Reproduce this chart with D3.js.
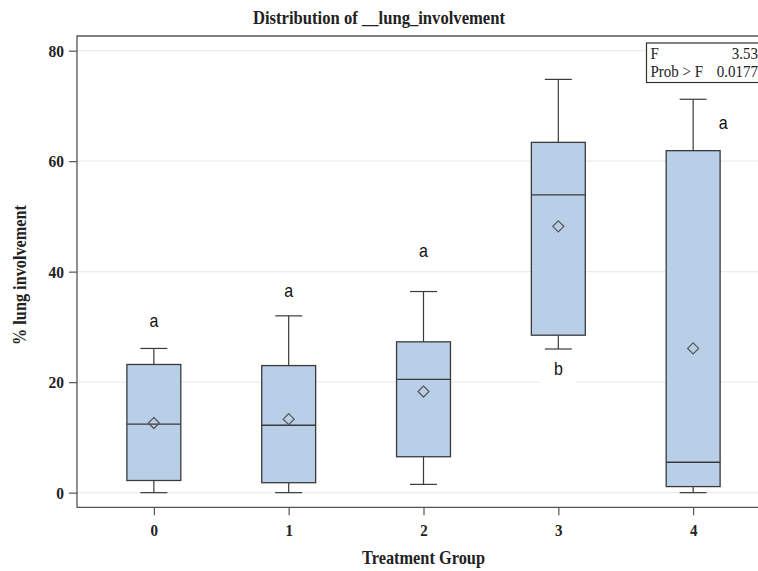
<!DOCTYPE html>
<html>
<head>
<meta charset="utf-8">
<script src="https://cdn.jsdelivr.net/npm/d3@7"></script>
<style>
  html, body { margin: 0; padding: 0; background: #fff; }
  svg { display: block; }
</style>
</head>
<body>
<svg id="chart" width="758" height="571"></svg>
<script>
// ---- data ----
const groups = ["0", "1", "2", "3", "4"];
const whiskerLow  = [0.0, 0.0, 1.5, 26.0, 0.0];
const q1          = [2.2, 1.8, 6.5, 28.5, 1.1];
const median      = [12.4, 12.2, 20.5, 53.9, 5.5];
const q3          = [23.2, 23.0, 27.3, 63.4, 61.9];
const whiskerHigh = [26.1, 32.0, 36.4, 74.8, 71.2];
const means       = [12.6, 13.3, 18.3, 48.2, 26.1];
const letters     = ["a", "a", "a", "b", "a"];
const letterValue = [31.0, 36.4, 43.6, 22.2, 66.9];
const yTicks = [0, 20, 40, 60, 80];
const statLabels = ["F", "Prob > F"];
const statValues = ["3.53", "0.0177"];
const titleText = "Distribution of __lung_involvement";
const xTitle = "Treatment Group";
const yTitle = "% lung involvement";

// ---- layout ----
const svg = d3.select("#chart");
const pLeft = 77, pTop = 36, pBottom = 507.3, pRight = 770;
const x = d3.scaleLinear().domain([-0.57, 4.57]).range([pLeft, pRight]);
const y = d3.scaleLinear().domain([-2.65, 82.65]).range([pBottom, pTop]);
const boxW = 0.4, capW = 0.2;
const ink = "#3a3a3a";
const serif = "'Liberation Serif', 'Times New Roman', serif";
const sans = "'Liberation Sans', Arial, sans-serif";

function stext(g, tx, ty, str, opts) {
  const t = g.append("text")
    .attr("transform", `translate(${tx},${ty}) rotate(${opts.rotate || 0}) scale(1,${opts.sy || 1})`)
    .attr("text-anchor", opts.anchor || "middle")
    .attr("font-family", opts.family || serif)
    .attr("font-size", opts.size)
    .attr("font-weight", opts.weight || "normal")
    .attr("fill", opts.fill || "#222")
    .text(str);
  if (opts.len) t.attr("textLength", opts.len).attr("lengthAdjust", "spacingAndGlyphs");
  return t;
}

// gridlines
svg.append("g").selectAll("line").data(yTicks).join("line")
  .attr("x1", pLeft).attr("x2", pRight)
  .attr("y1", d => y(d)).attr("y2", d => y(d))
  .attr("stroke", "#ececec").attr("stroke-width", 1.2);

// axes
const yAxis = d3.axisLeft(y).tickValues(yTicks).tickSize(8).tickFormat(d3.format("d"));
const gy = svg.append("g").attr("transform", `translate(${pLeft},0)`).call(yAxis);
gy.select(".domain").remove();
gy.selectAll(".tick line").attr("stroke", "#555").attr("stroke-width", 1.2);
gy.selectAll(".tick text").remove();
gy.selectAll(".tick").each(function(d) {
  stext(d3.select(this), -13, 5.5, String(d), {anchor: "end", size: 15.5, weight: "bold", sy: 1.05});
});

const xAxis = d3.axisBottom(x).tickValues(d3.range(groups.length)).tickSize(8).tickFormat(i => groups[i]);
const gx = svg.append("g").attr("transform", `translate(0,${pBottom})`).call(xAxis);
gx.select(".domain").remove();
gx.selectAll(".tick line").attr("stroke", "#555").attr("stroke-width", 1.2);
gx.selectAll(".tick text").remove();
gx.selectAll(".tick").each(function(i) {
  stext(d3.select(this), 0, 29, groups[i], {size: 15, weight: "bold", sy: 1.05});
});

// frame
svg.append("path")
  .attr("d", `M${pRight},${pTop}H${pLeft}V${pBottom}H${pRight}`)
  .attr("fill", "none").attr("stroke", "#555").attr("stroke-width", 1.3);

// boxes
const idx = d3.range(groups.length);
const g = svg.append("g");
g.append("g").selectAll("line").data(idx).join("line")
  .attr("x1", i => x(i)).attr("x2", i => x(i))
  .attr("y1", i => y(whiskerLow[i])).attr("y2", i => y(q1[i]))
  .attr("stroke", ink).attr("stroke-width", 1.2);
g.append("g").selectAll("line").data(idx).join("line")
  .attr("x1", i => x(i)).attr("x2", i => x(i))
  .attr("y1", i => y(whiskerHigh[i])).attr("y2", i => y(q3[i]))
  .attr("stroke", ink).attr("stroke-width", 1.2);
[whiskerLow, whiskerHigh].forEach(arr => {
  g.append("g").selectAll("line").data(idx).join("line")
    .attr("x1", i => x(i - capW / 2)).attr("x2", i => x(i + capW / 2))
    .attr("y1", i => y(arr[i])).attr("y2", i => y(arr[i]))
    .attr("stroke", ink).attr("stroke-width", 1.2);
});
g.append("g").selectAll("rect").data(idx).join("rect")
  .attr("x", i => x(i - boxW / 2))
  .attr("width", i => x(i + boxW / 2) - x(i - boxW / 2))
  .attr("y", i => y(q3[i]))
  .attr("height", i => y(q1[i]) - y(q3[i]))
  .attr("fill", "#b9cfe7").attr("stroke", ink).attr("stroke-width", 1.3);
g.append("g").selectAll("line").data(idx).join("line")
  .attr("x1", i => x(i - boxW / 2)).attr("x2", i => x(i + boxW / 2))
  .attr("y1", i => y(median[i])).attr("y2", i => y(median[i]))
  .attr("stroke", ink).attr("stroke-width", 1.3);
g.append("g").selectAll("path").data(idx).join("path")
  .attr("d", i => {
    const cx = x(i), cy = y(means[i]), r = 5.5;
    return `M${cx},${cy - r}L${cx + r},${cy}L${cx},${cy + r}L${cx - r},${cy}Z`;
  })
  .attr("fill", "none").attr("stroke", "#555").attr("stroke-width", 1.2);

// letters
const lg = svg.append("g");
idx.forEach(i => {
  const dx = (letterValue[i] < whiskerHigh[i] && letterValue[i] > q3[i]) ? 30 : 0;
  const cx = x(i) + dx, cy = y(letterValue[i]);
  if (letterValue[i] < whiskerLow[i]) {
    lg.append("rect").attr("x", cx - 18).attr("y", cy - 14).attr("width", 36).attr("height", 28).attr("fill", "#fff");
  }
  stext(lg, cx, cy + 5.5, letters[i], {family: sans, size: 16, sy: 1.2, fill: "#111"});
});

// stats box
const sb = svg.append("g");
sb.append("rect").attr("x", 646.5).attr("y", 43).attr("width", 130).attr("height", 39.5)
  .attr("fill", "#fff").attr("stroke", "#333").attr("stroke-width", 1.2);
statLabels.forEach((s, k) => {
  stext(sb, 650.5, 59 + k * 17.5, s, {anchor: "start", size: 15, sy: 1.05});
  stext(sb, 758, 59 + k * 17.5, statValues[k], {anchor: "end", size: 15, sy: 1.05});
});

// titles
stext(svg, 379, 24, titleText, {size: 15, weight: "bold", len: 252, sy: 1.3});
stext(svg, 423.5, 564, xTitle, {size: 15, weight: "bold", len: 123, sy: 1.25});
stext(svg, 26, 275, yTitle, {size: 15, weight: "bold", len: 140, sy: 1.25, rotate: -90});
</script>
</body>
</html>
